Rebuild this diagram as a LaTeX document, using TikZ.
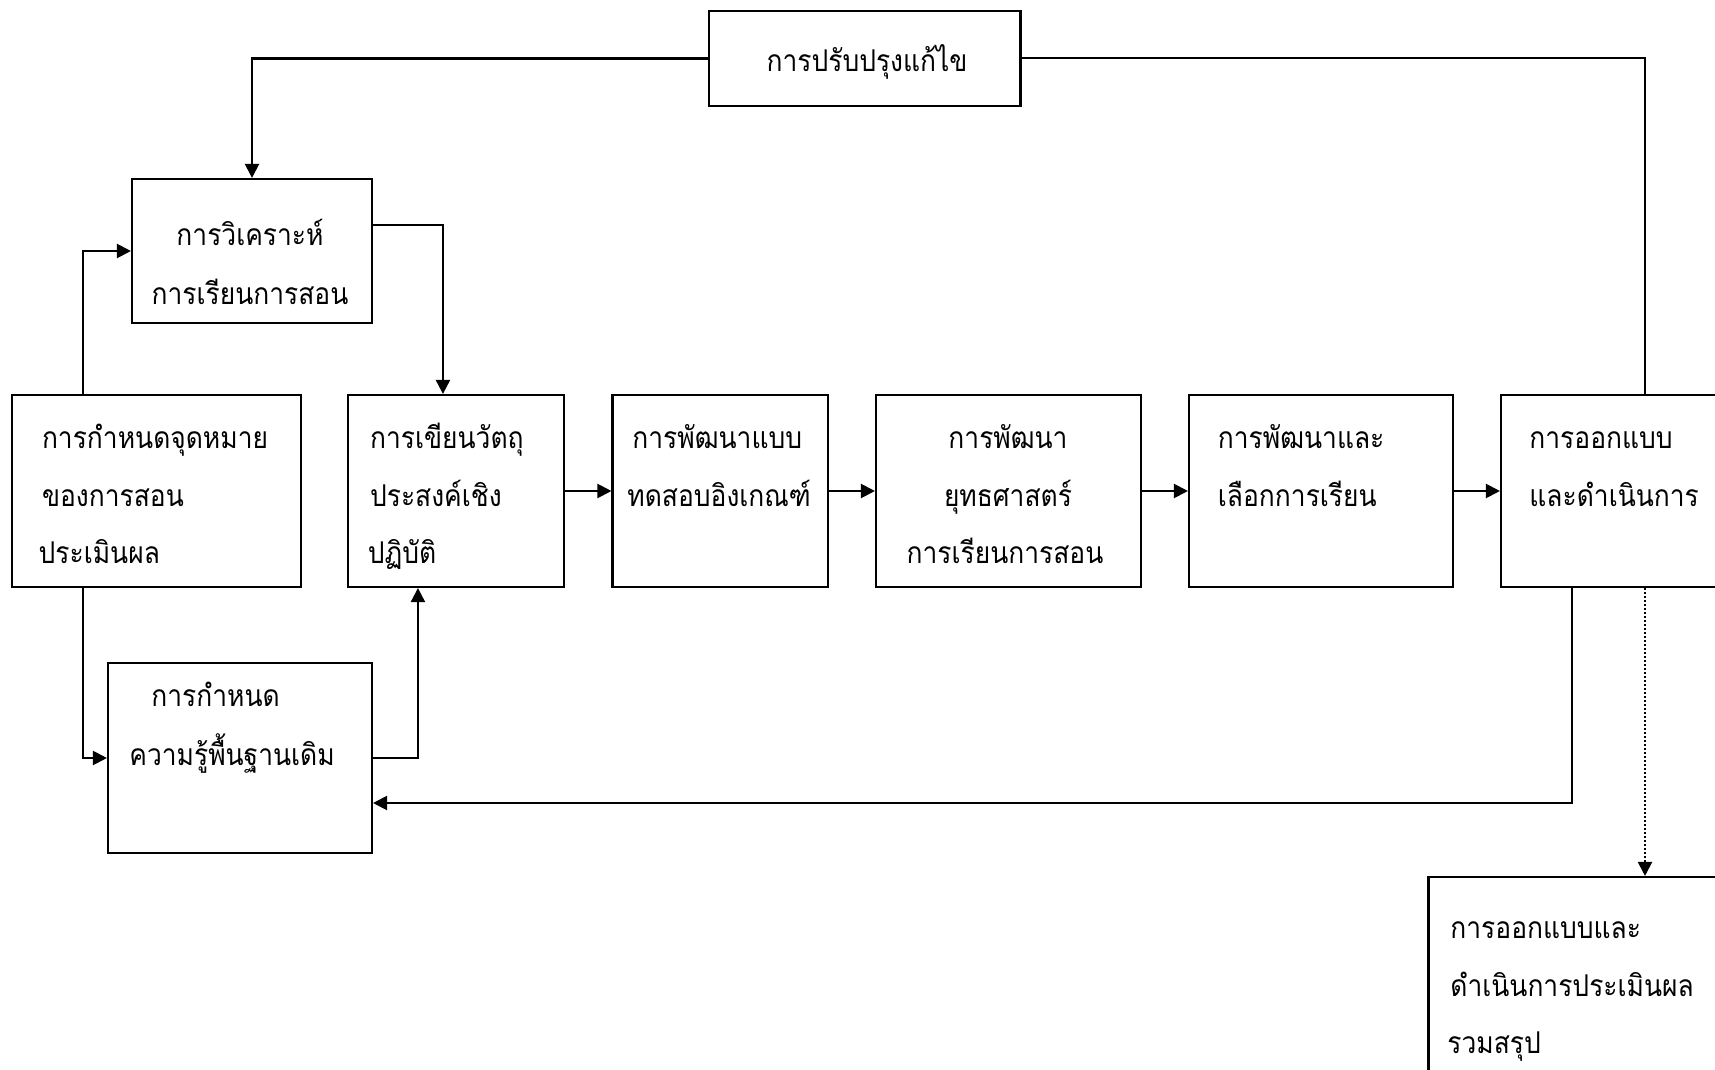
\documentclass[tikz,border=0pt]{standalone}
\usepackage{fontspec}
\newfontfamily\thaifont[Script=Thai,FakeStretch=0.88]{Loma}
\usetikzlibrary{arrows.meta,calc}
\begin{document}
\begin{tikzpicture}[x=0.5pt,y=-0.5pt,
  box/.style={draw, line width=1.05pt, rectangle, inner sep=0pt},
  ln/.style={line width=1pt},
  arr/.style={line width=1.05pt, -{Triangle[length=7pt,width=7pt]}},
  dotline/.style={line width=1.05pt, dash pattern=on 1pt off 1pt, -{Triangle[length=7pt,width=7pt]}},
  txt/.style={anchor=base west, inner sep=0pt, font=\thaifont\fontsize{15pt}{18pt}\selectfont},
  ctxt/.style={txt, anchor=base},
]
\useasboundingbox (0,0) rectangle (1715,1070);
\fill[white] (0,0) rectangle (1715,1070);
\clip (0,0) rectangle (1715,1070);

% boxes
\node[box, minimum width=155.75pt, minimum height=47.5pt] (fix) at (864.75,58.5) {};
\node[box, minimum width=120pt, minimum height=72pt] (ana) at (252,251) {};
\node[box, minimum width=144.5pt, minimum height=96pt] (goal) at (156.5,491) {};
\node[box, minimum width=108pt, minimum height=96pt] (wrt) at (456,491) {};
\node[box, minimum width=107.75pt, minimum height=96pt] (tst) at (720.25,491) {};
\node[box, minimum width=132.5pt, minimum height=96pt] (str) at (1008.5,491) {};
\node[box, minimum width=131.8pt, minimum height=96pt] (sel) at (1320.8,491) {};
\node[box, minimum width=144pt, minimum height=96pt] (des) at (1645,491) {};
\node[box, minimum width=132pt, minimum height=95pt] (knw) at (240,758) {};
\node[box, minimum width=165pt, minimum height=111.5pt] (fin) at (1593.5,988.5) {};

% labels
\node[ctxt] (fix-t) at (867,72) {การปรับปรุงแก้ไข};
\node[ctxt] (ana-t1) at (250,245) {การวิเคราะห์};
\node[ctxt] (ana-t2) at (250,304) {การเรียนการสอน};
\node[txt] (goal-t1) at (41.6,448.5) {การกำหนดจุดหมาย};
\node[txt] (goal-t2) at (41.6,506.5) {ของการสอน};
\node[txt] (goal-t3) at (38.3,563) {ประเมินผล};
\node[txt] (wrt-t1) at (369.7,448.5) {การเขียนวัตถุ};
\node[txt] (wrt-t2) at (369.7,506.5) {ประสงค์เชิง};
\node[txt] (wrt-t3) at (367.5,563) {ปฏิบัติ};
\node[txt] (tst-t1) at (632,448.5) {การพัฒนาแบบ};
\node[txt] (tst-t2) at (627,506.5) {ทดสอบอิงเกณฑ์};
\node[ctxt] (str-t1) at (1008,448.5) {การพัฒนา};
\node[ctxt] (str-t2) at (1008,506.5) {ยุทธศาสตร์};
\node[ctxt] (str-t3) at (1005,563) {การเรียนการสอน};
\node[txt] (sel-t1) at (1217.5,448.5) {การพัฒนาและ};
\node[txt] (sel-t2) at (1217.5,506.5) {เลือกการเรียน};
\node[txt] (des-t1) at (1529,448.5) {การออกแบบ};
\node[txt] (des-t2) at (1529,506.5) {และดำเนินการ};
\node[txt] (knw-t1) at (151,706.6) {การกำหนด};
\node[txt] (knw-t2) at (129,765.7) {ความรู้พื้นฐานเดิม};
\node[txt] (fin-t1) at (1450,938.5) {การออกแบบและ};
\node[txt] (fin-t2) at (1450,996.5) {ดำเนินการประเมินผล};
\node[txt] (fin-t3) at (1447,1053) {รวมสรุป};

% connection points off the box centres
\coordinate (goalUp) at ($(goal.north west)+(72,0)$);
\coordinate (goalDown) at ($(goal.south west)+(72,0)$);
\coordinate (anaOut) at ($(ana.north east)+(0,47)$);
\coordinate (wrtIn) at ($(wrt.north west)+(96,0)$);
\coordinate (wrtUp) at ($(wrt.south west)+(71,0)$);
\coordinate (desOut) at ($(des.south west)+(72,0)$);
\coordinate (knwBack) at ($(knw.east)+(0,45)$);

% connectors
\draw[arr] (fix.west) -| (ana.north);
\draw[ln] (fix.east) -| (des.north);
\draw[arr] (goalUp) |- (ana.west);
\draw[arr] (anaOut) -| (wrtIn);
\draw[arr] (goalDown) |- (knw.west);
\draw[arr] (knw.east) -| (wrtUp);
\draw[arr] (wrt.east) -- (tst.west);
\draw[arr] (tst.east) -- (str.west);
\draw[arr] (str.east) -- (sel.west);
\draw[arr] (sel.east) -- (des.west);
\draw[arr] (desOut) |- (knwBack);
\draw[dotline] (des.south) -- (des.south |- fin.north);
\end{tikzpicture}
\end{document}
